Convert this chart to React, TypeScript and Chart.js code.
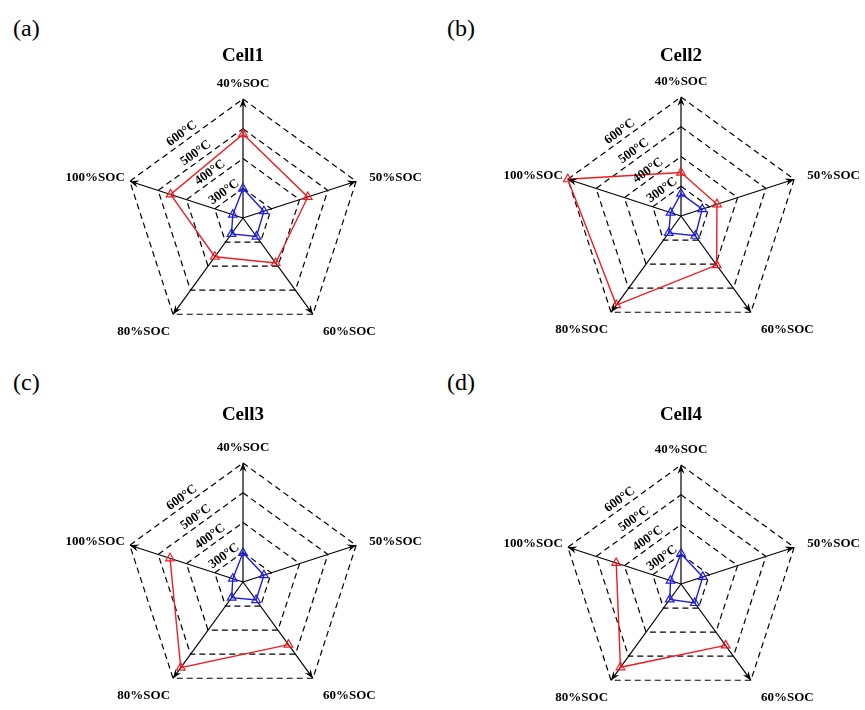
import React, { useEffect, useRef } from 'react';
import { Chart, registerables } from 'chart.js';

Chart.register(...registerables);

// ---------- data ----------
const axisLabels = ['40%SOC', '50%SOC', '60%SOC', '80%SOC', '100%SOC'];
const tickValues = [300, 400, 500, 600];
const tickLabels = ['300°C', '400°C', '500°C', '600°C'];
const scaleMin = 200;
const scaleMax = 600;
const cellTitles = ['Cell1', 'Cell2', 'Cell3', 'Cell4'];
const panelLetters = ['(a)', '(b)', '(c)', '(d)'];

const cell1Red = [482, 429, 387, 361, 456];
const cell1Blue = [299, 274, 277, 266, 236];
const cell2Red = [346, 327, 404, 570, 600];
const cell2Blue = [275, 275, 282, 270, 237];
const cell3Red = [null, null, 460, 556, 458];
const cell3Blue = [298, 274, 275, 265, 236];
const cell4Red = [null, null, 455, 546, 429];
const cell4Blue = [302, 277, 279, 264, 237];

const redSeries = [cell1Red, cell2Red, cell3Red, cell4Red];
const blueSeries = [cell1Blue, cell2Blue, cell3Blue, cell4Blue];

// ---------- style / layout ----------
const FONT = "'Liberation Serif', 'Times New Roman', serif";
const RED = 'rgb(236,30,36)';
const BLUE = 'rgb(30,30,220)';
const CANVAS_W = 380;
const CANVAS_H = 363;
const RADIUS = 119;
const TITLE_SIZE = 19;

const panels = [
  { left: 243 - 190, top: 0, cy: 218, ty: 56, lx: 13, ly: 16 },
  { left: 681 - 190, top: 0, cy: 216, ty: 56, lx: 447, ly: 16 },
  { left: 243 - 190, top: 360, cy: 582, ty: 415, lx: 13, ly: 370 },
  { left: 681 - 190, top: 360, cy: 584, ty: 415, lx: 447, ly: 370 },
];

const labelPlacement = [
  { align: 'center', dx: 0, dy: -15 },
  { align: 'left', dx: 13, dy: -4 },
  { align: 'left', dx: 10, dy: 17 },
  { align: 'right', dx: -3, dy: 17 },
  { align: 'right', dx: -5, dy: -4 },
];

const decorPlugin = {
  id: 'radarDecor',
  afterDatasetsDraw(chart: any) {
    const s = chart.scales.r;
    const ctx: CanvasRenderingContext2D = chart.ctx;
    const n = axisLabels.length;
    ctx.save();
    // arrowheads at axis tips
    ctx.fillStyle = '#000';
    for (let i = 0; i < n; i++) {
      const tip = s.getPointPosition(i, s.drawingArea);
      const a = Math.atan2(tip.y - s.yCenter, tip.x - s.xCenter);
      const c = Math.cos(a), sn = Math.sin(a);
      const L = 9, W = 3.6;
      ctx.beginPath();
      ctx.moveTo(tip.x, tip.y);
      ctx.lineTo(tip.x - L * c + W * sn, tip.y - L * sn - W * c);
      ctx.lineTo(tip.x - 0.65 * L * c, tip.y - 0.65 * L * sn);
      ctx.lineTo(tip.x - L * c - W * sn, tip.y - L * sn + W * c);
      ctx.closePath();
      ctx.fill();
    }
    // axis (point) labels
    ctx.font = `bold 13px ${FONT}`;
    ctx.textBaseline = 'middle';
    for (let i = 0; i < n; i++) {
      const tip = s.getPointPosition(i, s.drawingArea);
      const p = labelPlacement[i];
      ctx.textAlign = p.align as CanvasTextAlign;
      ctx.fillText(axisLabels[i], tip.x + p.dx, tip.y + p.dy);
    }
    // ring labels along the edge between first and last axis
    ctx.textAlign = 'center';
    for (let k = 0; k < tickValues.length; k++) {
      const r = s.getDistanceFromCenterForValue(tickValues[k]);
      const p0 = s.getPointPosition(0, r);
      const p4 = s.getPointPosition(n - 1, r);
      const mx = (p0.x + p4.x) / 2, my = (p0.y + p4.y) / 2;
      const dx = mx - s.xCenter, dy = my - s.yCenter;
      const d = Math.hypot(dx, dy) || 1;
      const off = 8;
      const x = mx + (dx / d) * off, y = my + (dy / d) * off;
      const rot = Math.atan2(p0.y - p4.y, p0.x - p4.x);
      ctx.save();
      ctx.translate(x, y);
      ctx.rotate(rot);
      ctx.fillText(tickLabels[k], 0, 0);
      ctx.restore();
    }
    ctx.restore();
  },
};

function RadarPanel({ idx }: { idx: number }) {
  const ref = useRef<HTMLCanvasElement | null>(null);
  const p = panels[idx];
  useEffect(() => {
    if (!ref.current) return;
    const ccy = p.cy - p.top;
    const tyc = p.ty - p.top;
    const lineH = TITLE_SIZE * 1.2;
    const padTop = tyc - lineH / 2;
    const titleBottom = ccy - RADIUS - padTop - lineH;
    const padBottom = CANVAS_H - (ccy + RADIUS);
    const padSide = CANVAS_W / 2 - RADIUS;
    const chart = new Chart(ref.current, {
      type: 'radar',
      data: {
        labels: axisLabels,
        datasets: [
          {
            data: redSeries[idx],
            borderColor: RED,
            backgroundColor: 'rgba(0,0,0,0)',
            fill: false,
            borderWidth: 1.4,
            pointStyle: 'triangle',
            pointRadius: 5,
            pointBorderColor: RED,
            pointBackgroundColor: 'rgba(255,255,255,0)',
            pointBorderWidth: 1.2,
            spanGaps: false,
          },
          {
            data: blueSeries[idx],
            borderColor: BLUE,
            backgroundColor: 'rgba(0,0,0,0)',
            fill: false,
            borderWidth: 1.4,
            pointStyle: 'triangle',
            pointRadius: 5,
            pointBorderColor: BLUE,
            pointBackgroundColor: 'rgba(255,255,255,0)',
            pointBorderWidth: 1.2,
            spanGaps: false,
          },
        ],
      },
      options: {
        animation: false,
        responsive: false,
        maintainAspectRatio: false,
        layout: { padding: { left: padSide, right: padSide, top: padTop, bottom: padBottom } },
        plugins: {
          legend: { display: false },
          tooltip: { enabled: false },
          title: {
            display: true,
            text: cellTitles[idx],
            color: '#000',
            font: { family: FONT, size: TITLE_SIZE, weight: 'bold' },
            padding: { top: 0, bottom: titleBottom },
          },
        },
        elements: { line: { tension: 0 } },
        scales: {
          r: {
            min: scaleMin,
            max: scaleMax,
            beginAtZero: false,
            ticks: { display: false, stepSize: 100 },
            pointLabels: { display: false },
            grid: { color: '#000', lineWidth: 1.2, circular: false },
            border: { dash: [6, 4] },
            angleLines: { color: '#000', lineWidth: 1.2, borderDash: [] },
          } as any,
        },
      } as any,
      plugins: [decorPlugin],
    });
    return () => chart.destroy();
  }, [idx]);
  return (
    <canvas
      ref={ref}
      width={CANVAS_W}
      height={CANVAS_H}
      style={{ position: 'absolute', left: p.left, top: p.top, width: CANVAS_W, height: CANVAS_H }}
    />
  );
}

export default function App() {
  return (
    <div
      style={{
        position: 'fixed',
        left: 0,
        top: 0,
        width: 865,
        height: 710,
        overflow: 'hidden',
        background: '#fff',
      }}
    >
      {panels.map((p, i) => (
        <RadarPanel key={i} idx={i} />
      ))}
      {panels.map((p, i) => (
        <div
          key={'l' + i}
          style={{
            position: 'absolute',
            left: p.lx,
            top: p.ly,
            fontFamily: FONT,
            fontSize: 24,
            lineHeight: '24px',
            color: '#000',
          }}
        >
          {panelLetters[i]}
        </div>
      ))}
    </div>
  );
}
